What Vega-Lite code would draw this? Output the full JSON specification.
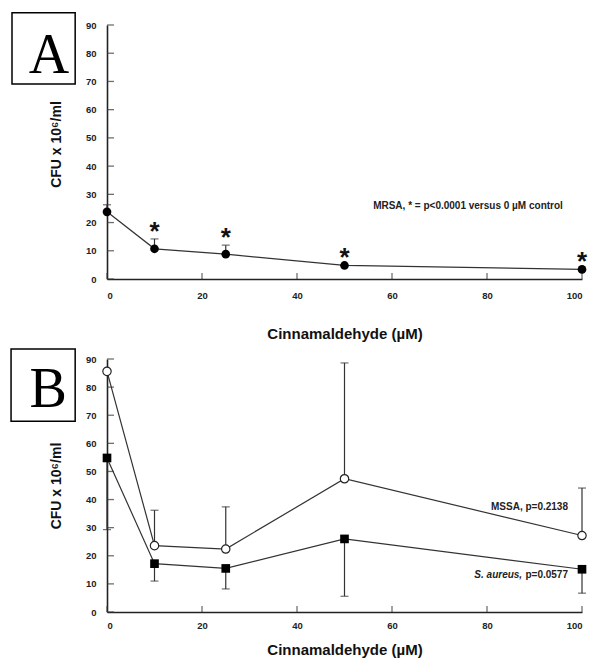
{
  "$schema": "https://vega.github.io/schema/vega-lite/v6.json",
  "padding": {"left": 10, "top": 12, "right": 5, "bottom": 5},
  "spacing": 6,
  "config": {
    "view": {"stroke": null},
    "font": "Liberation Sans",
    "axis": {
      "grid": false,
      "ticks": false,
      "domainColor": "#222",
      "domainWidth": 1.6,
      "labelFont": "Liberation Sans",
      "labelFontWeight": "bold",
      "labelFontSize": 9.5,
      "labelColor": "#222",
      "titleFont": "Liberation Sans",
      "titleFontWeight": "bold",
      "titleColor": "#111"
    },
    "axisX": {"tickCount": 5},
    "axisY": {"tickCount": 10}
  },
  "datasets": {
    "yticks": [{"v": 0}, {"v": 10}, {"v": 20}, {"v": 30}, {"v": 40}, {"v": 50}, {"v": 60}, {"v": 70}, {"v": 80}, {"v": 90}],
    "xticks": [{"v": 0}, {"v": 20}, {"v": 40}, {"v": 60}, {"v": 80}, {"v": 100}],
    "mrsa": [
      {"conc": 0, "cfu": 23.8, "upper": 26.3, "star": false},
      {"conc": 10, "cfu": 10.7, "upper": 14.2, "star": true},
      {"conc": 25, "cfu": 8.8, "upper": 12.0, "star": true},
      {"conc": 50, "cfu": 4.8, "upper": 4.8, "star": true},
      {"conc": 100, "cfu": 3.4, "upper": 3.4, "star": true}
    ],
    "strains": [
      {"conc": 0, "series": "MSSA", "cfu": 85.6, "err": 85.6},
      {"conc": 10, "series": "MSSA", "cfu": 23.6, "err": 36.2},
      {"conc": 25, "series": "MSSA", "cfu": 22.4, "err": 37.4},
      {"conc": 50, "series": "MSSA", "cfu": 47.4, "err": 88.6},
      {"conc": 100, "series": "MSSA", "cfu": 27.2, "err": 44.1},
      {"conc": 0, "series": "S. aureus", "cfu": 54.8, "err": 29.3},
      {"conc": 10, "series": "S. aureus", "cfu": 17.2, "err": 11.0},
      {"conc": 25, "series": "S. aureus", "cfu": 15.5, "err": 8.2},
      {"conc": 50, "series": "S. aureus", "cfu": 26.0, "err": 5.6},
      {"conc": 100, "series": "S. aureus", "cfu": 15.2, "err": 6.7}
    ]
  },
  "vconcat": [
    {
      "width": 475,
      "height": 254,
      "layer": [
        {
          "data": {"name": "mrsa"},
          "mark": {"type": "line", "color": "#333", "strokeWidth": 1.2},
          "encoding": {
            "x": {"field": "conc", "type": "quantitative", "scale": {"domain": [0, 100], "nice": false, "zero": false},
              "axis": {"tickCount": 5, "grid": false, "ticks": false, "title": "Cinnamaldehyde (µM)", "titleFontSize": 15, "labelPadding": 11, "titlePadding": 27}},
            "y": {"field": "cfu", "type": "quantitative", "scale": {"domain": [0, 90], "nice": false, "zero": false},
              "axis": {"tickCount": 10, "grid": false, "ticks": false, "title": "CFU x 10⁶/ml", "titleFontSize": 14, "labelPadding": 11, "titlePadding": 22, "titleY": 119}}
          }
        },
        {
          "data": {"name": "yticks"},
          "mark": {"type": "tick", "orient": "horizontal", "color": "#333", "size": 7, "thickness": 1.3, "xOffset": 3.5},
          "encoding": {
            "x": {"datum": 0, "type": "quantitative"},
            "y": {"field": "v", "type": "quantitative"}
          }
        },
        {
          "data": {"name": "xticks"},
          "mark": {"type": "tick", "orient": "vertical", "color": "#333", "size": 6, "thickness": 1.3, "yOffset": -3},
          "encoding": {
            "x": {"field": "v", "type": "quantitative"},
            "y": {"datum": 0, "type": "quantitative"}
          }
        },
        {
          "data": {"values": [{"panel": "A"}]},
          "mark": {"type": "rect", "fill": "white", "stroke": "black", "strokeWidth": 1.5},
          "encoding": {
            "x": {"datum": -20, "type": "quantitative"},
            "x2": {"datum": -6.7},
            "y": {"datum": 69.1, "type": "quantitative"},
            "y2": {"datum": 94.3}
          }
        },
        {
          "data": {"values": [{"panel": "A"}]},
          "mark": {"type": "text", "font": "Liberation Serif", "fontSize": 56, "align": "center", "baseline": "alphabetic", "color": "black"},
          "encoding": {
            "x": {"datum": -12.2, "type": "quantitative"},
            "y": {"datum": 73, "type": "quantitative"},
            "text": {"field": "panel"}
          }
        },
        {
          "data": {"name": "mrsa"},
          "mark": {"type": "rule", "color": "#333", "strokeWidth": 1.2},
          "encoding": {
            "x": {"field": "conc", "type": "quantitative"},
            "y": {"field": "cfu", "type": "quantitative"},
            "y2": {"field": "upper"}
          }
        },
        {
          "data": {"name": "mrsa"},
          "transform": [{"filter": "datum.upper > datum.cfu"}],
          "mark": {"type": "tick", "orient": "horizontal", "color": "#333", "size": 8, "thickness": 1.2},
          "encoding": {
            "x": {"field": "conc", "type": "quantitative"},
            "y": {"field": "upper", "type": "quantitative"}
          }
        },
        {
          "data": {"name": "mrsa"},
          "mark": {"type": "point", "shape": "circle", "filled": true, "color": "black", "size": 75, "opacity": 1},
          "encoding": {
            "x": {"field": "conc", "type": "quantitative"},
            "y": {"field": "cfu", "type": "quantitative"}
          }
        },
        {
          "data": {"name": "mrsa"},
          "transform": [{"filter": "datum.star"}],
          "mark": {"type": "text", "text": "*", "fontSize": 26, "fontWeight": "bold", "align": "center", "baseline": "alphabetic", "dy": 1, "color": "#111"},
          "encoding": {
            "x": {"field": "conc", "type": "quantitative"},
            "y": {"field": "upper", "type": "quantitative"}
          }
        },
        {
          "data": {"values": [{"note": "MRSA, * = p<0.0001 versus 0 µM control"}]},
          "mark": {"type": "text", "fontSize": 10, "fontWeight": "bold", "align": "center", "baseline": "middle", "color": "#222"},
          "encoding": {
            "x": {"datum": 76, "type": "quantitative"},
            "y": {"datum": 25.9, "type": "quantitative"},
            "text": {"field": "note"}
          }
        }
      ]
    },
    {
      "width": 475,
      "height": 253,
      "layer": [
        {
          "data": {"name": "strains"},
          "mark": {"type": "line", "color": "#333", "strokeWidth": 1.2},
          "encoding": {
            "x": {"field": "conc", "type": "quantitative", "scale": {"domain": [0, 100], "nice": false, "zero": false},
              "axis": {"tickCount": 5, "grid": false, "ticks": false, "title": "Cinnamaldehyde (µM)", "titleFontSize": 15, "labelPadding": 8, "titlePadding": 13}},
            "y": {"field": "cfu", "type": "quantitative", "scale": {"domain": [0, 90], "nice": false, "zero": false},
              "axis": {"tickCount": 10, "grid": false, "ticks": false, "title": "CFU x 10⁶/ml", "titleFontSize": 14, "labelPadding": 11, "titlePadding": 22}},
            "detail": {"field": "series"}
          }
        },
        {
          "data": {"name": "yticks"},
          "mark": {"type": "tick", "orient": "horizontal", "color": "#333", "size": 7, "thickness": 1.3, "xOffset": 3.5},
          "encoding": {
            "x": {"datum": 0, "type": "quantitative"},
            "y": {"field": "v", "type": "quantitative"}
          }
        },
        {
          "data": {"name": "xticks"},
          "mark": {"type": "tick", "orient": "vertical", "color": "#333", "size": 6, "thickness": 1.3, "yOffset": -3},
          "encoding": {
            "x": {"field": "v", "type": "quantitative"},
            "y": {"datum": 0, "type": "quantitative"}
          }
        },
        {
          "data": {"values": [{"panel": "B"}]},
          "mark": {"type": "rect", "fill": "white", "stroke": "black", "strokeWidth": 1.5},
          "encoding": {
            "x": {"datum": -20.2, "type": "quantitative"},
            "x2": {"datum": -6.7},
            "y": {"datum": 67.9, "type": "quantitative"},
            "y2": {"datum": 93.6}
          }
        },
        {
          "data": {"values": [{"panel": "B"}]},
          "mark": {"type": "text", "font": "Liberation Serif", "fontSize": 56, "align": "center", "baseline": "alphabetic", "color": "black"},
          "encoding": {
            "x": {"datum": -12.4, "type": "quantitative"},
            "y": {"datum": 72.9, "type": "quantitative"},
            "text": {"field": "panel"}
          }
        },
        {
          "data": {"name": "strains"},
          "mark": {"type": "rule", "color": "#333", "strokeWidth": 1.2},
          "encoding": {
            "x": {"field": "conc", "type": "quantitative"},
            "y": {"field": "cfu", "type": "quantitative"},
            "y2": {"field": "err"}
          }
        },
        {
          "data": {"name": "strains"},
          "transform": [{"filter": "datum.err != datum.cfu"}],
          "mark": {"type": "tick", "orient": "horizontal", "color": "#333", "size": 8, "thickness": 1.2},
          "encoding": {
            "x": {"field": "conc", "type": "quantitative"},
            "y": {"field": "err", "type": "quantitative"}
          }
        },
        {
          "data": {"name": "strains"},
          "transform": [{"filter": "datum.series == 'MSSA'"}],
          "mark": {"type": "point", "shape": "circle", "filled": true, "fill": "white", "stroke": "#222", "strokeWidth": 1.2, "size": 70, "opacity": 1},
          "encoding": {
            "x": {"field": "conc", "type": "quantitative"},
            "y": {"field": "cfu", "type": "quantitative"}
          }
        },
        {
          "data": {"name": "strains"},
          "transform": [{"filter": "datum.series == 'S. aureus'"}],
          "mark": {"type": "point", "shape": "square", "filled": true, "color": "black", "size": 75, "opacity": 1},
          "encoding": {
            "x": {"field": "conc", "type": "quantitative"},
            "y": {"field": "cfu", "type": "quantitative"}
          }
        },
        {
          "data": {"values": [{"note": "MSSA,  p=0.2138"}]},
          "mark": {"type": "text", "fontSize": 10, "fontWeight": "bold", "align": "right", "baseline": "middle", "color": "#222"},
          "encoding": {
            "x": {"datum": 97.05, "type": "quantitative"},
            "y": {"datum": 37.4, "type": "quantitative"},
            "text": {"field": "note"}
          }
        },
        {
          "data": {"values": [{"note": "p=0.0577"}]},
          "mark": {"type": "text", "fontSize": 10, "fontWeight": "bold", "align": "right", "baseline": "middle", "color": "#222"},
          "encoding": {
            "x": {"datum": 97.05, "type": "quantitative"},
            "y": {"datum": 13.2, "type": "quantitative"},
            "text": {"field": "note"}
          }
        },
        {
          "data": {"values": [{"note": "S.  aureus,"}]},
          "mark": {"type": "text", "fontSize": 10, "fontWeight": "bold", "fontStyle": "italic", "align": "right", "baseline": "middle", "color": "#222"},
          "encoding": {
            "x": {"datum": 87.4, "type": "quantitative"},
            "y": {"datum": 13.2, "type": "quantitative"},
            "text": {"field": "note"}
          }
        }
      ]
    }
  ]
}
